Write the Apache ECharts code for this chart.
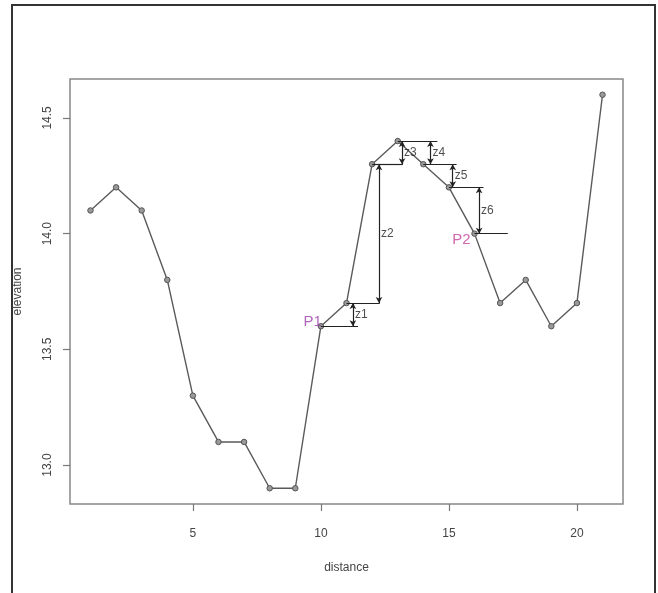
<!DOCTYPE html>
<html>
<head>
<meta charset="utf-8">
<script src="https://cdn.jsdelivr.net/npm/echarts@6/dist/echarts.min.js"></script>
<style>html,body{margin:0;padding:0;background:#fff;}#c{width:658px;height:593px;}</style>
</head>
<body>
<div id="c"></div>
<script>
// ---- data ----
const distance = [1,2,3,4,5,6,7,8,9,10,11,12,13,14,15,16,17,18,19,20,21];
const elevation = [14.1,14.2,14.1,13.8,13.3,13.1,13.1,12.9,12.9,13.6,13.7,14.3,14.4,14.3,14.2,14.0,13.7,13.8,13.6,13.7,14.6];
const xTicks = [5,10,15,20];
const yTicks = [13.0,13.5,14.0,14.5];
// horizontal guide segments: start x, y, end x
const hStart = [10,11,12,13,14,15,16];
const hY     = [13.6,13.7,14.3,14.4,14.3,14.2,14.0];
const hEnd   = [11.45,12.3,13.2,14.55,15.3,16.35,17.3];
// vertical difference arrows
const zNames = ['z1','z2','z3','z4','z5','z6'];
const zX     = [11.25,12.27,13.17,14.28,15.15,16.18];
const zLow   = [13.6,13.7,14.3,14.3,14.2,14.0];
const zHigh  = [13.7,14.3,14.4,14.4,14.3,14.2];
// named points
const pNames = ['P1','P2'];
const pX = [10,16];
const pY = [13.6,14.0];

const FONT = 'Liberation Sans';
const segs = hStart.map((s,i)=>[{coord:[s,hY[i]]},{coord:[hEnd[i],hY[i]]}]);
const arrows = zX.map((x,i)=>[{coord:[x,zLow[i]]},{coord:[x,zHigh[i]]}]);

const chart = echarts.init(document.getElementById('c'));
chart.setOption({
  animation:false,
  backgroundColor:'#fff',
  graphic:[{type:'rect',shape:{x:12,y:5,width:643,height:600},style:{fill:'none',stroke:'#333',lineWidth:2},silent:true}],
  grid:{left:70,right:35,top:79,bottom:89,show:true,borderColor:'#888',borderWidth:1.5,backgroundColor:'transparent'},
  xAxis:{type:'value',min:0.2,max:21.8,
    name:'distance',nameLocation:'middle',nameGap:58,
    nameTextStyle:{fontFamily:FONT,fontSize:12,color:'#444'},
    axisLine:{show:false},splitLine:{show:false},
    axisTick:{show:true,customValues:xTicks,length:7,lineStyle:{color:'#777',width:1.2}},
    axisLabel:{customValues:xTicks,margin:24,fontFamily:FONT,fontSize:12,color:'#444'}
  },
  yAxis:{type:'value',min:12.832,max:14.668,
    name:'elevation',nameLocation:'middle',nameGap:46,
    nameTextStyle:{fontFamily:FONT,fontSize:12,color:'#444'},
    axisLine:{show:false},splitLine:{show:false},
    axisTick:{show:true,customValues:yTicks,length:7,lineStyle:{color:'#777',width:1.2}},
    axisLabel:{customValues:yTicks,rotate:90,margin:16,fontFamily:FONT,fontSize:12,color:'#444',
      formatter:v=>Number(v).toFixed(1)}
  },
  series:[
    {type:'line',data:distance.map((d,i)=>[d,elevation[i]]),
      lineStyle:{color:'#5a5a5a',width:1.4},
      symbol:'circle',symbolSize:5.5,
      itemStyle:{color:'#999',borderColor:'#555',borderWidth:1},
      z:3},
    {type:'scatter',data:zX.map((x,i)=>[x,(zLow[i]+zHigh[i])/2,zNames[i]]),
      symbolSize:0,silent:true,
      label:{show:true,position:'right',distance:2,formatter:p=>p.value[2],
        fontFamily:FONT,fontSize:12,color:'#222'},
      markLine:{silent:true,symbol:['none','none'],label:{show:false},
        lineStyle:{color:'#222',width:1.2,type:'solid'},data:segs},
      z:4},
    {type:'scatter',data:[],silent:true,
      markLine:{silent:true,symbol:['arrow','arrow'],symbolSize:[5,6],label:{show:false},
        lineStyle:{color:'#222',width:1.2,type:'solid'},data:arrows},
      z:4},
    {type:'scatter',data:pX.map((x,i)=>({value:[x,pY[i]],name:pNames[i],
        label:{color:i===0?'#9b3fa9':'#c4409a',offset:i===0?[1,-4]:[-4,6]}})),
      symbolSize:0,silent:true,
      label:{show:true,position:'left',distance:0,formatter:p=>p.name,
        fontFamily:FONT,fontSize:15},
      z:5}
  ]
});
</script>
</body>
</html>
